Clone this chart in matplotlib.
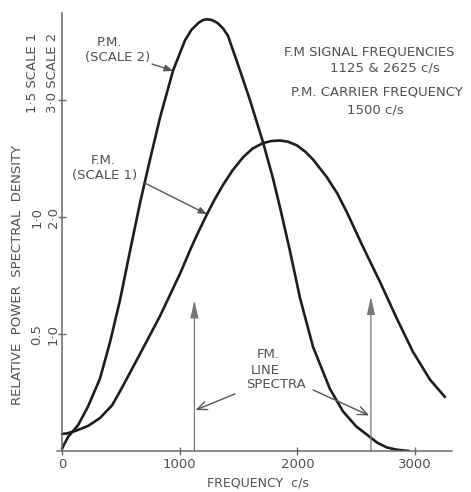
import matplotlib
matplotlib.use("Agg")
import matplotlib.pyplot as plt

# ---------------- data ----------------
pm_freq = [0, 51, 136, 221, 323, 408, 493, 578, 663, 750, 833, 943, 1045, 1100,
           1160, 1200, 1232, 1270, 1320, 1370, 1410, 1500, 1597, 1708, 1793,
           1860, 1937, 2022, 2133, 2277, 2387, 2500, 2591, 2680, 2761, 2850,
           2950]
pm_scale2 = [0.02, 0.12, 0.22, 0.38, 0.62, 0.93, 1.29, 1.71, 2.12, 2.50, 2.85,
             3.25, 3.51, 3.60, 3.66, 3.685, 3.69, 3.685, 3.66, 3.61, 3.55,
             3.29, 3.00, 2.64, 2.33, 2.05, 1.71, 1.31, 0.89, 0.53, 0.34, 0.21,
             0.14, 0.07, 0.03, 0.01, 0.0]

fm_freq = [0, 40, 110, 221, 323, 425, 493, 663, 833, 1003, 1100, 1155, 1232,
           1300, 1368, 1450, 1538, 1620, 1708, 1780, 1852, 1920, 1997, 2070,
           2133, 2251, 2340, 2421, 2557, 2702, 2846, 2982, 3127, 3254]
fm_scale1 = [0.073, 0.075, 0.085, 0.107, 0.141, 0.195, 0.255, 0.415, 0.577,
             0.758, 0.872, 0.932, 1.012, 1.078, 1.137, 1.200, 1.255, 1.293,
             1.316, 1.325, 1.327, 1.322, 1.306, 1.278, 1.246, 1.170, 1.100,
             1.020, 0.873, 0.723, 0.565, 0.424, 0.305, 0.231]

line_freqs = [1125, 2625]
line_heights = [0.645, 0.66]

x_ticks = [0, 1000, 2000, 3000]
x_tick_labels = ["0", "1000", "2000", "3000"]
y_ticks = [0.5, 1.0, 1.5]
y_labels_scale1 = ["0.5", "1·0", "1·5 SCALE 1"]
y_labels_scale2 = ["1·0", "2·0", "3·0 SCALE 2"]

# ---------------- figure ----------------
W, H = 471, 492
fig = plt.figure(figsize=(W / 100, H / 100), dpi=100)
plt.rcParams['font.family'] = ['DejaVu Sans']
TXT = "#505050"
CURVE = "#1e1e1e"
AX = "#6a6a6a"

ax = fig.add_axes([57 / W, 41 / H, 395 / W, 438 / H])
ax.set_xlim(-42.5, 3314)
ax.set_ylim(0, 1.872)
for s in ("top", "right"):
    ax.spines[s].set_visible(False)
ax.spines["left"].set_position(("data", 0))
for s in ("left", "bottom"):
    ax.spines[s].set_color(AX)
    ax.spines[s].set_linewidth(1.1)

ax.set_xticks(x_ticks)
ax.set_xticklabels(x_tick_labels)
ax.set_yticks(y_ticks)
ax.set_yticklabels([])
ax.tick_params(axis="both", direction="inout", length=6, width=1.0, color=AX,
               labelcolor=TXT, labelsize=9.5)
ax.tick_params(axis="x", pad=2)

# curves
ax.plot(fm_freq, fm_scale1, color=CURVE, lw=1.9, solid_joinstyle="round",
        solid_capstyle="round")
ax.plot(pm_freq, [v / 2 for v in pm_scale2], color=CURVE, lw=1.9,
        solid_joinstyle="round", solid_capstyle="round")

# line spectra arrows
for f, h in zip(line_freqs, line_heights):
    ax.annotate("", xy=(f, h), xytext=(f, 0),
                arrowprops=dict(arrowstyle="-|>,head_length=0.9,head_width=0.2",
                                color="#787878", lw=0.9, shrinkA=0, shrinkB=0,
                                mutation_scale=12))

# leader lines
def leader(xy, xytext, style="-|>,head_length=0.5,head_width=0.2"):
    ax.annotate("", xy=xy, xytext=xytext,
                arrowprops=dict(arrowstyle=style, color="#555555", lw=1.0,
                                shrinkA=0, shrinkB=0, mutation_scale=10))

leader((943, 1.625), (765, 1.654))
leader((1232, 1.012), (705, 1.145))
leader((1135, 0.175), (1470, 0.244), "->,head_length=0.7,head_width=0.3")
leader((2610, 0.152), (2133, 0.261), "->,head_length=0.7,head_width=0.3")

# y tick labels (rotated)
for yt, l1, l2 in zip(y_ticks, y_labels_scale1, y_labels_scale2):
    if "SCALE" in l1:
        ax.text(-250, yt - 0.055, l1, rotation=90, rotation_mode="anchor",
                ha="left", va="center", color=TXT, fontsize=9.5)
        ax.text(-80, yt - 0.055, l2, rotation=90, rotation_mode="anchor",
                ha="left", va="center", color=TXT, fontsize=9.5)
    else:
        ax.text(-215, yt, l1, rotation=90, ha="center", va="center",
                color=TXT, fontsize=9.5)
        ax.text(-75, yt, l2, rotation=90, ha="center", va="center",
                color=TXT, fontsize=9.5)

def ftext(x, y, s, **kw):
    fig.text(x / W, 1 - y / H, s, ha="center", va="center", color=TXT,
             fontsize=kw.pop("fontsize", 9.5), **kw)

ftext(110, 42, "P.M.")
ftext(118, 57, "(SCALE 2)")
ftext(103, 160, "F.M.")
ftext(105, 175, "(SCALE 1)")
ftext(369, 52, "F.M SIGNAL FREQUENCIES")
ftext(385, 68, "1125 & 2625 c/s")
ftext(377, 92, "P.M. CARRIER FREQUENCY")
ftext(375, 110, "1500 c/s")
ftext(268, 355, "FM.")
ftext(265, 370, "LINE")
ftext(276, 385, "SPECTRA")
ftext(258, 483, "FREQUENCY  c/s", fontsize=9)
ftext(18, 275, "RELATIVE  POWER  SPECTRAL  DENSITY", rotation=90)

fig.savefig("out.png", dpi=100, facecolor="white")
